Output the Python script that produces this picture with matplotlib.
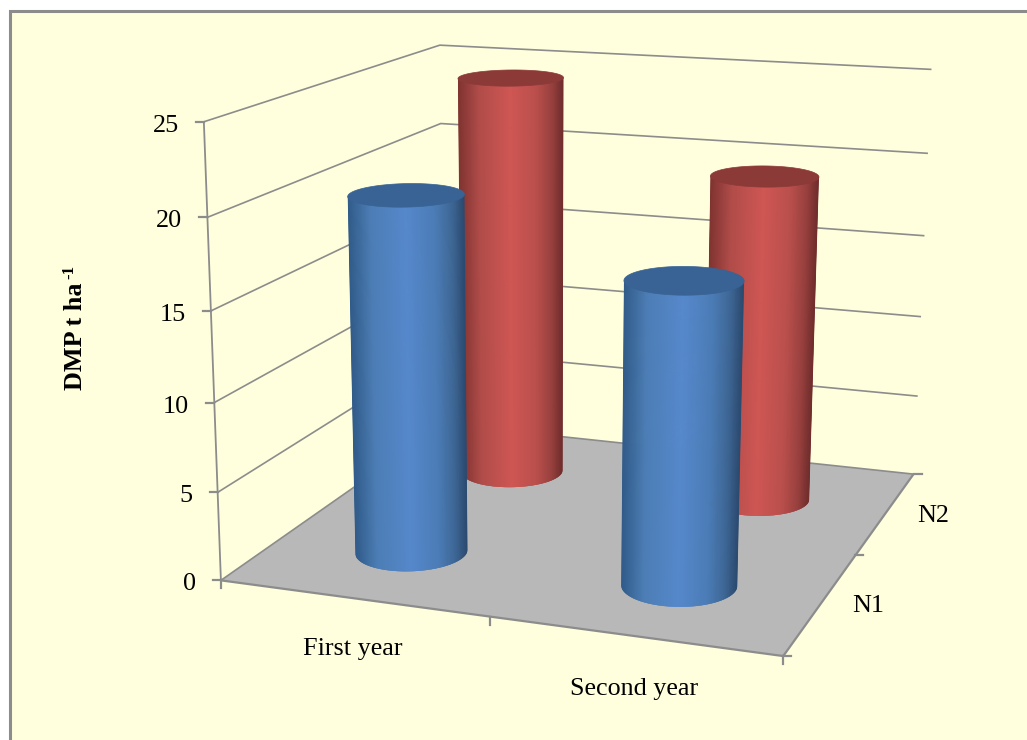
import numpy as np
import matplotlib
matplotlib.use("Agg")
import matplotlib.pyplot as plt
from matplotlib.colors import LinearSegmentedColormap
from matplotlib.patches import Polygon

categories = ["First year", "Second year"]
series_names = ["N1", "N2"]
n1_values = [20.25, 16.8]
n2_values = [24.4, 19.5]
z_ticks = [0, 5, 10, 15, 20, 25]

plt.rcParams["font.family"] = ["Liberation Serif", "DejaVu Serif"]

BG = "#FFFFDD"
LINE = "#8c8c8c"
FLOOR = "#b8b8b8"

fig = plt.figure(figsize=(10.27, 7.40), dpi=100, facecolor="white")
ax = fig.add_axes([0, 0, 1, 1])
ax.set_xlim(0, 1027)
ax.set_ylim(740, 0)
ax.axis("off")

# Chart area with its grey border, running off the right and bottom edges
ax.add_patch(plt.Rectangle((9.5, 11), 1040, 760, fc=BG, ec=LINE, lw=2.2, zorder=0))

# Camera calibrated from the corners of the plot box (category, series, value -> px)
box_world = np.array([
    [0, 0, 0], [0, 0, 25], [0, 2, 0], [0, 2, 25],
    [2, 2, 0], [2, 2, 25], [2, 0, 0], [0, 0, 5], [0, 0, 20],
    [2, 2, 20], [0, 2, 20],
], float)
box_px = np.array([
    [221.5, 580], [203, 122], [443, 425], [440, 44.5],
    [914, 473], [930.5, 70], [783, 657], [218, 492], [207.5, 217],
    [927, 153], [441.5, 124],
], float)

rows, rhs = [], []
for (X, Y, Z), (u, v) in zip(box_world, box_px):
    rows.append([X, Y, Z, 1, 0, 0, 0, 0, -u * X, -u * Y, -u * Z])
    rhs.append(u)
    rows.append([0, 0, 0, 0, X, Y, Z, 1, -v * X, -v * Y, -v * Z])
    rhs.append(v)
sol = np.linalg.lstsq(np.array(rows), np.array(rhs), rcond=None)[0]
P = np.append(sol, 1.0).reshape(3, 4)


def project(x, y, z):
    x, y, z = np.broadcast_arrays(np.asarray(x, float), np.asarray(y, float), np.asarray(z, float))
    h = np.stack([x, y, z, np.ones_like(x)], axis=-1)
    q = h @ P.T
    return q[..., 0] / q[..., 2], q[..., 1] / q[..., 2]


def seg(a, b, **kw):
    xs, ys = project([a[0], b[0]], [a[1], b[1]], [a[2], b[2]])
    ax.plot(xs, ys, color=LINE, solid_capstyle="butt", **kw)


def convex_hull(points):
    pts = sorted(map(tuple, points))

    def half(seq):
        out = []
        for p in seq:
            while len(out) > 1 and ((out[-1][0] - out[-2][0]) * (p[1] - out[-2][1])
                                    - (out[-1][1] - out[-2][1]) * (p[0] - out[-2][0])) <= 0:
                out.pop()
            out.append(p)
        return out[:-1]

    return np.array(half(pts) + half(pts[::-1]))


# Floor
fx, fy = project([0, 2, 2, 0], [0, 0, 2, 2], [0, 0, 0, 0])
ax.add_patch(Polygon(np.c_[fx, fy], fc=FLOOR, ec="none", zorder=1))

# Wall gridlines turn at the back-left corner
for z in z_ticks:
    xs, ys = project([0, 0, 2], [0, 2, 2], [z, z, z])
    ax.plot(xs, ys, color=LINE, lw=1.2, zorder=2, solid_joinstyle="miter")

seg((0, 0, 0), (0, 0, 25), lw=1.3, zorder=3)
seg((0, 0, 0), (2, 0, 0), lw=1.6, zorder=3)
seg((2, 0, 0), (2, 2, 0), lw=1.6, zorder=3)

# Value axis ticks and labels
for z in z_ticks:
    x0, y0 = project(0, 0, z)
    ax.plot([x0 - 8, x0], [y0, y0], color=LINE, lw=1.6, zorder=3)
    ax.text(x0 - 25, y0 + 4, str(z), ha="right", va="center", fontsize=18.8, color="black")

# Category axis ticks and labels
for i in range(3):
    x0, y0 = project(i, 0, 0)
    ax.plot([x0, x0], [y0, y0 + 8], color=LINE, lw=1.6, zorder=3)
for i, name in enumerate(categories):
    x0, y0 = project(i + 0.5, 0, 0)
    ax.text(x0, y0 + (51 if i == 0 else 53), name, ha="center", va="center", fontsize=18.8, color="black")

# Series axis ticks and labels
for i in range(3):
    x0, y0 = project(2, i, 0)
    ax.plot([x0, x0 + 8], [y0, y0], color=LINE, lw=1.6, zorder=3)
for i, name in enumerate(series_names):
    x0, y0 = project(2, i + 0.5, 0)
    ax.text(x0 + 31, y0 + 3.5, name, ha="left", va="center", fontsize=18.8, color="black")

# Axis title, with the exponent as a separate raised piece
ax.text(76, 390, "DMP t ha", rotation=90, ha="center", va="bottom", fontsize=18.8,
        fontweight="bold", color="black")
ax.text(69.5, 279, "-1", rotation=90, ha="center", va="bottom", fontsize=12.2,
        fontweight="bold", color="black")

RX, RY = 0.198, 0.21
STOPS = [0, 0.2, 0.5, 0.75, 0.9, 1]
blue_map = LinearSegmentedColormap.from_list(
    "blue", list(zip(STOPS, ["#2f5a88", "#4c7db5", "#5588cc", "#4b7cb6", "#3d6694", "#2b4a70"])))
red_map = LinearSegmentedColormap.from_list(
    "red", list(zip(STOPS, ["#7e3230", "#b04c49", "#cf5653", "#b94f4c", "#97403e", "#6f2d2c"])))


def cylinder(cx, cy, value, cmap, cap, zorder):
    th = np.linspace(0, 2 * np.pi, 361)[:-1]
    x = cx + RX * np.cos(th)
    y = cy + RY * np.sin(th)
    bx, by = project(x, y, 0 * th)
    tx, ty = project(x, y, 0 * th + value)

    hull = Polygon(convex_hull(np.r_[np.c_[bx, by], np.c_[tx, ty]]), fc="none", ec="none", zorder=zorder)
    ax.add_patch(hull)

    # Shading strips run between the two silhouette edges and are clipped to the outline
    bl, br = np.array([bx.min(), by[bx.argmin()]]), np.array([bx.max(), by[bx.argmax()]])
    tl, tr = np.array([tx.min(), ty[tx.argmin()]]), np.array([tx.max(), ty[tx.argmax()]])
    edges = np.linspace(0, 1, 121)
    for s0, s1 in zip(edges[:-1], edges[1:]):
        b0, b1 = bl + s0 * (br - bl), bl + s1 * (br - bl)
        t0, t1 = tl + s0 * (tr - tl), tl + s1 * (tr - tl)
        # Stretch each strip past both ends; the clip trims it back
        quad = np.array([b0 + 0.2 * (b0 - t0), b1 + 0.2 * (b1 - t1), t1, t0])
        c = cmap(0.5 * (s0 + s1))
        strip = Polygon(quad, fc=c, ec=c, lw=0.6, zorder=zorder)
        ax.add_patch(strip)
        strip.set_clip_path(hull)
    ax.add_patch(Polygon(np.c_[tx, ty], fc=cap, ec=cap, lw=0.5, zorder=zorder + 0.1))


# Back row first so the front row overlaps it
for i, v in enumerate(n2_values):
    cylinder(i + 0.5, 1.5, v, red_map, "#8b3a38", 4 + i * 0.2)
for i, v in enumerate(n1_values):
    cylinder(i + 0.5, 0.5, v, blue_map, "#386394", 5 + i * 0.2)

fig.savefig("out.png", dpi=100, facecolor=fig.get_facecolor())
